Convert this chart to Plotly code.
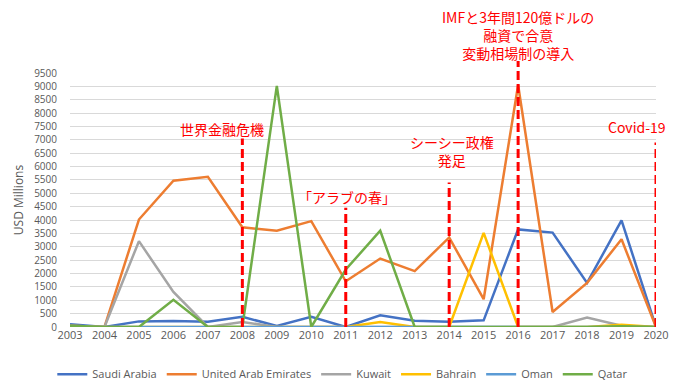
import plotly.graph_objects as go

years = list(range(2003, 2021))
saudi = [100, 0, 210, 220, 200, 380, 40, 380, 0, 440, 230, 200, 250, 3650, 3530, 1650, 3990, 0]
uae = [50, 0, 4020, 5470, 5620, 3730, 3600, 3960, 1710, 2560, 2090, 3350, 1040, 9050, 560, 1650, 3280, 0]
kuwait = [50, 0, 3210, 1310, 0, 190, 0, 0, 0, 0, 0, 0, 0, 0, 0, 350, 50, 0]
bahrain = [0, 0, 0, 0, 0, 0, 0, 0, 0, 190, 0, 0, 3520, 0, 0, 0, 80, 0]
oman = [0] * 18
qatar = [50, 0, 0, 1020, 0, 0, 9020, 0, 2150, 3600, 0, 0, 0, 0, 0, 0, 30, 0]

series = [
    ("Saudi Arabia", saudi, "#4472C4"),
    ("United Arab Emirates", uae, "#ED7D31"),
    ("Kuwait", kuwait, "#A5A5A5"),
    ("Bahrain", bahrain, "#FFC000"),
    ("Oman", oman, "#5B9BD5"),
    ("Qatar", qatar, "#70AD47"),
]

# events: year, label, dashed-line top (USD Millions), label height (paper), label x shift (px)
event_years = [2008, 2011, 2014, 2016, 2020]
event_labels = ["世界金融危機", "「アラブの春」", "シーシー政権<br>発足",
                "IMFと3年間120億ドルの<br>融資で合意<br>変動相場制の導入", "Covid-19"]
event_tops = [7050, 4460, 5400, 9950, 6900]
label_y = [0.780, 0.512, 0.691, 1.148, 0.787]
label_xshift = [-20, 1, 3, 0, -19]

ymax = 9500

fig = go.Figure()
for name, vals, col in series:
    fig.add_trace(go.Scatter(x=years, y=vals, name=name, mode="lines",
                             line=dict(color=col, width=2.5)))

for yr, top in zip(event_years, event_tops):
    fig.add_shape(type="line", xref="x", yref="paper", x0=yr, x1=yr,
                  y0=0, y1=top / ymax,
                  line=dict(color="#FF0000", width=3, dash="9px,4px"))

for yr, lab, ly, xs in zip(event_years, event_labels, label_y, label_xshift):
    fig.add_annotation(x=yr, xref="x", y=ly, yref="paper", text=lab,
                       showarrow=False, xshift=xs, yanchor="middle", borderpad=0,
                       font=dict(family="Noto Sans CJK JP", size=14, color="#FF0000"))

fig.update_layout(
    width=675, height=383,
    margin=dict(l=62, r=27, t=65, b=64, autoexpand=False),
    paper_bgcolor="white", plot_bgcolor="white",
    font=dict(family="Open Sans", color="#595959"),
    showlegend=True,
    legend=dict(orientation="h", xref="container", x=0.496, xanchor="center",
                yref="container", y=0.044, yanchor="middle",
                font=dict(size=11, color="#595959"), itemwidth=30),
)
fig.update_xaxes(range=[2003, 2020], tickmode="array", tickvals=years,
                 ticktext=[str(y) for y in years], showgrid=False, zeroline=False,
                 showline=False, tickfont=dict(size=11, color="#595959"), ticks="",
                 automargin=False)
fig.update_yaxes(range=[0, ymax], dtick=500, tick0=0, showgrid=True, gridcolor="#D9D9D9",
                 gridwidth=1, zeroline=False, showline=False,
                 tickfont=dict(size=10, color="#595959"), ticklabelstandoff=12,
                 automargin=False,
                 title=dict(text="USD Millions", font=dict(size=12, color="#595959"), standoff=7))

fig.write_html("out.html")
